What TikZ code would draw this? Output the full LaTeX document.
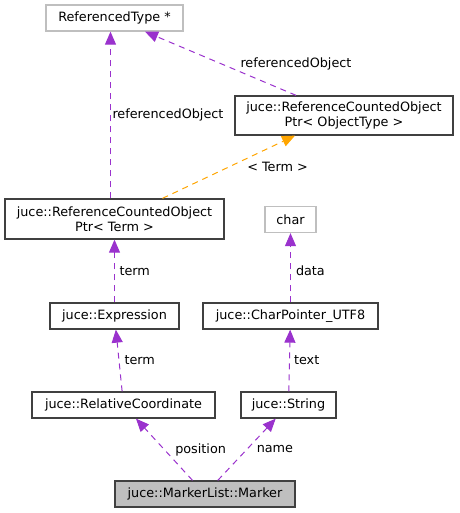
\documentclass[tikz,border=0pt]{standalone}
\usepackage{fontspec}
\setmainfont{DejaVu Sans}
\usetikzlibrary{positioning,arrows.meta}
\definecolor{edgepurple}{HTML}{9A32CD}
\definecolor{edgeorange}{HTML}{FFA500}
\definecolor{boxborder}{HTML}{404040}
\definecolor{lightborder}{HTML}{BFBFBF}
\definecolor{markerfill}{HTML}{BFBFBF}

\begin{document}
\begin{tikzpicture}[x=1pt, y=-1pt, font=\fontsize{12.8}{14.5}\selectfont,
    cls/.style={rectangle, draw=boxborder, line width=1.3pt, fill=white, align=center, inner sep=0pt, minimum height=26pt},
    ext/.style={rectangle, draw=lightborder, line width=1.3pt, fill=white, align=center, inner sep=0pt, minimum height=26pt},
    uses/.style={draw=edgepurple, line width=1pt, dash pattern=on 6pt off 5pt, -{Triangle[length=13pt,width=11pt]}},
    tmpl/.style={draw=edgeorange, line width=1pt, dash pattern=on 6pt off 5pt, -{Triangle[length=13pt,width=11pt]}},
    lbl/.style={inner sep=1pt, text=black}]
    \useasboundingbox (0,0) rectangle (459,513);

    \node[ext, minimum width=137pt] (reftype) at (114.5,18) {ReferencedType *};
    \node[cls, minimum width=218pt, minimum height=39pt] (rcopobj) at (344,115.5) {juce::ReferenceCountedObject\\Ptr< ObjectType >};
    \node[cls, minimum width=219pt, minimum height=40pt] (rcopterm) at (114.5,219) {juce::ReferenceCountedObject\\Ptr< Term >};
    \node[ext, minimum width=51pt] (chartype) at (290.5,219.5) {char};
    \node[cls, minimum width=129pt] (expr) at (114.5,316) {juce::Expression};
    \node[cls, minimum width=175pt] (cpointer) at (290.5,316) {juce::CharPointer\_UTF8};
    \node[cls, minimum width=183pt] (relcoord) at (123.5,405) {juce::RelativeCoordinate};
    \node[cls, minimum width=95pt] (jstring) at (288.5,405) {juce::String};
    \node[cls, fill=markerfill, minimum width=180pt] (marker) at (205,494) {juce::MarkerList::Marker};

    \draw[uses] (marker) -- node[lbl, right=9.5pt] {position} (relcoord);
    \draw[uses] (marker) -- node[lbl, right=8.5pt] {name} (jstring);
    \draw[uses] (relcoord) -- node[lbl, right=4pt] {term} (expr);
    \draw[uses] (jstring) -- node[lbl, right=3pt] {text} (cpointer);
    \draw[uses] (expr) -- node[lbl, right=3.5pt] {term} (rcopterm);
    \draw[uses] (cpointer) -- node[lbl, right=4pt, pos=0.45] {data} (chartype);
    \draw[uses] ([xshift=-4pt]rcopterm.north) -- node[lbl, right=0.5pt] {referencedObject} ([xshift=-4pt]reftype.south);
    \draw[tmpl] ([xshift=48pt]rcopterm.north) -- node[lbl, right=17pt] {< Term >} ([xshift=-49pt]rcopobj.south);
    \draw[uses] ([xshift=-48pt]rcopobj.north) -- node[lbl, right=18.5pt] {referencedObject} ([xshift=30.5pt]reftype.south);
\end{tikzpicture}
\end{document}
